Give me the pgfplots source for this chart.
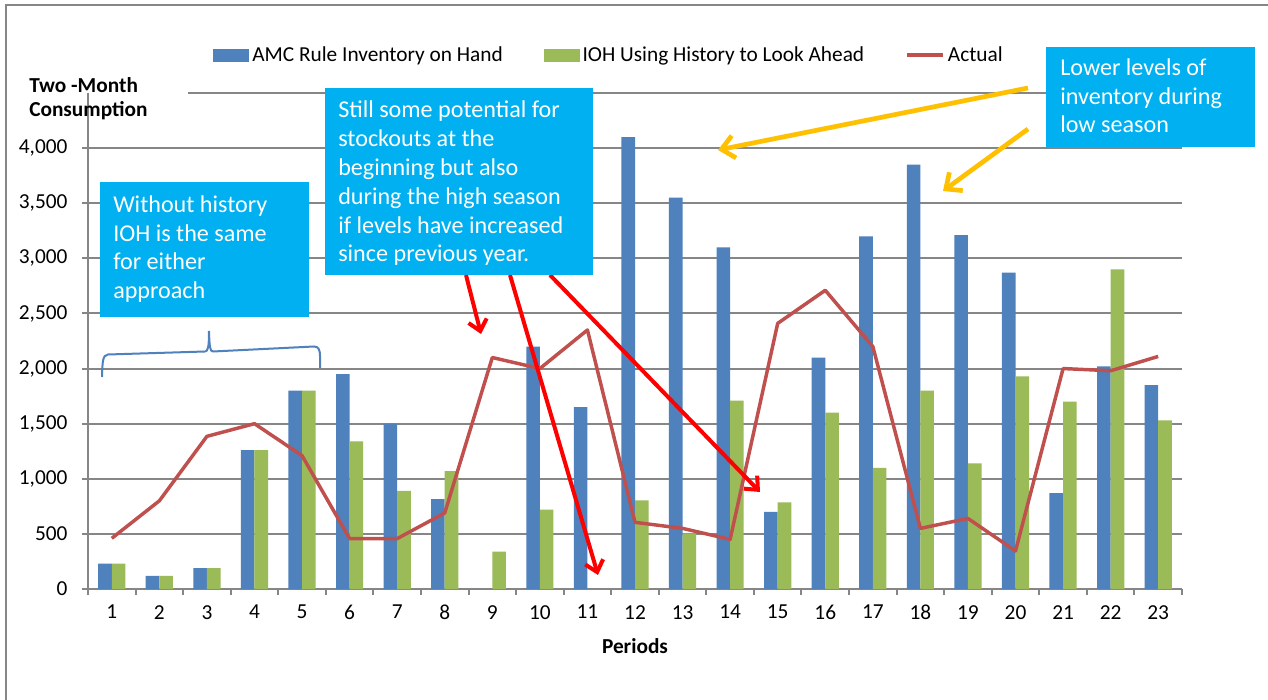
\documentclass[border=0pt]{standalone}
\usepackage{pgfplots}
\pgfplotsset{compat=1.18}
\usepackage{fontspec}
\setmainfont{Carlito}
\usetikzlibrary{arrows.meta}
\definecolor{amcblue}{HTML}{4F81BD}
\definecolor{iohgreen}{HTML}{9BBB59}
\definecolor{actred}{HTML}{C0504D}
\definecolor{boxblue}{HTML}{00B0F0}
\definecolor{arrowyellow}{HTML}{FFC000}
\definecolor{arrowred}{HTML}{FF0000}
\definecolor{gridgray}{HTML}{868686}
\newcommand{\chartfont}{\fontsize{16}{19}\selectfont}
\newcommand{\annfont}{\fontsize{18.1}{21}\selectfont}
\newcommand{\boxline}[3]{\node[anchor=base west, inner sep=0pt, text=white, font=\annfont] at (#1,#2) {#3};}
\begin{document}
\begin{tikzpicture}[x=0.75pt,y=0.75pt]
\path[use as bounding box, fill=white] (-88,-111) rectangle (1180,589);
\begin{axis}[
  scale only axis,
  width=820.5pt, height=372pt,
  xmin=0.5, xmax=23.5, ymin=0, ymax=4500,
  clip=false,
  axis lines*=left,
  axis line style={draw=gridgray, line width=1.5pt},
  ytick={0,500,...,4000},
  ymajorgrids,
  major grid style={draw=gridgray, line width=1.5pt},
  xtick={1,...,23},
  minor xtick={0.5,1.5,...,23.5},
  tick align=outside,
  major tick length=4.5pt, minor tick length=4.5pt,
  major x tick style={draw=none},
  minor x tick style={draw=gridgray, line width=1.5pt},
  ytick style={draw=gridgray, line width=1.5pt},
  tick label style={font=\chartfont, inner sep=0pt, text=black},
  yticklabel style={anchor=east, xshift=-10.7pt},
  xticklabel style={anchor=north, yshift=-7.5pt},
  /pgf/number format/1000 sep={,},
  /pgf/number format/assume math mode=true,
  xlabel={Periods},
  xlabel style={font=\chartfont\bfseries, at={(axis description cs:0.5,0)}, anchor=base, yshift=-48pt, inner sep=0pt},
  legend columns=3,
  legend cell align=left,
  legend style={draw=none, fill=none, at={(0.11426,1.0756)}, anchor=west, inner sep=0pt,
    font=\chartfont, nodes={inner sep=0pt},
    /tikz/every odd column/.append style={column sep=2.25pt},
    /tikz/every even column/.append style={column sep=30.5pt}},
]
\addplot[ybar, bar width=10.2pt, bar shift=-5.1pt, fill=amcblue, draw=none,
  legend image code/.code={\fill[amcblue] (0pt,-4.875pt) rectangle (27pt,4.875pt);}]
  coordinates {(1,230) (2,120) (3,190) (4,1260) (5,1800) (6,1950) (7,1500) (8,815) (9,0) (10,2200) (11,1650) (12,4100) (13,3550) (14,3100) (15,700) (16,2100) (17,3200) (18,3850) (19,3210) (20,2870) (21,870) (22,2020) (23,1850)};
\addlegendentry{AMC Rule Inventory on Hand}
\addplot[ybar, bar width=10.2pt, bar shift=5.1pt, fill=iohgreen, draw=none,
  legend image code/.code={\fill[iohgreen] (0pt,-4.875pt) rectangle (27pt,4.875pt);}]
  coordinates {(1,230) (2,120) (3,190) (4,1260) (5,1800) (6,1340) (7,890) (8,1070) (9,340) (10,720) (11,0) (12,805) (13,505) (14,1710) (15,785) (16,1600) (17,1100) (18,1800) (19,1140) (20,1930) (21,1700) (22,2900) (23,1530)};
\addlegendentry{IOH Using History to Look Ahead}
\addplot[color=actred, line width=2.6pt, mark=none, line join=round,
  legend image code/.code={\draw[actred, line width=3pt] (0pt,0pt) -- (27pt,0pt);}]
  coordinates {(1,460) (2,800) (3,1385) (4,1500) (5,1210) (6,457) (7,457) (8,690) (9,2100) (10,2000) (11,2350) (12,605) (13,550) (14,450) (15,2410) (16,2710) (17,2200) (18,550) (19,640) (20,345) (21,2000) (22,1980) (23,2110)};
\addlegendentry{Actual}
\end{axis}
\begin{scope}[shift={(-88,589)}, yscale=-1]
  % outer chart frame
  \draw[gridgray, line width=1.2pt] (6,700) -- (6,5) -- (1268,5);
  % top gridline (4500)
  \draw[gridgray, line width=1.5pt] (188,93) -- (1182,93);
  % y axis title
  \node[anchor=base west, inner sep=0pt, font=\chartfont\bfseries] at (29,92.7) {Two -Month};
  \node[anchor=base west, inner sep=0pt, font=\chartfont\bfseries] at (29,116.7) {Consumption};
  % brace
  \draw[amcblue, line width=1.5pt] (102,377) .. controls (102.5,362) and (102.5,355) .. (108,354.5) -- (205,351.5) .. controls (208,351.5) and (209,347) .. (209,331) .. controls (209.5,347) and (210,351.5) .. (213,351.5) -- (314,346.5) .. controls (318,346.5) and (320,349) .. (320,356) -- (320,368);
  % red arrows
  \draw[arrowred, line width=3pt, -{Straight Barb[length=8pt,width=14pt]}] (466,275) -- (481,334);
  \draw[arrowred, line width=3pt, -{Straight Barb[length=8pt,width=14pt]}] (510,275) -- (598,575);
  \draw[arrowred, line width=3pt, -{Straight Barb[length=8pt,width=14pt]}] (550,275) -- (760,492);
  % yellow arrows
  \draw[arrowyellow, line width=3.5pt, -{Straight Barb[length=9.5pt,width=17pt]}] (1028,88) -- (718,150);
  \draw[arrowyellow, line width=3.5pt, -{Straight Barb[length=9.5pt,width=17pt]}] (1028,129) -- (943,191);
  % annotation boxes
  \fill[boxblue] (100,182) rectangle (309,317);
  \boxline{113}{213}{Without history}
  \boxline{113}{241.5}{IOH is the same}
  \boxline{113}{270}{for either}
  \boxline{113}{298.5}{approach}
  \fill[boxblue] (325,88) rectangle (593,275);
  \boxline{338}{118}{Still some potential for}
  \boxline{338}{146.8}{stockouts at the}
  \boxline{338}{175.6}{beginning but also}
  \boxline{338}{204.4}{during the high season}
  \boxline{338}{233.2}{if levels have increased}
  \boxline{338}{262}{since previous year.}
  \fill[boxblue] (1046,47) rectangle (1255,147);
  \boxline{1060}{76}{Lower levels of}
  \boxline{1060}{104.5}{inventory during}
  \boxline{1060}{133}{low season}
\end{scope}
\end{tikzpicture}
\end{document}
